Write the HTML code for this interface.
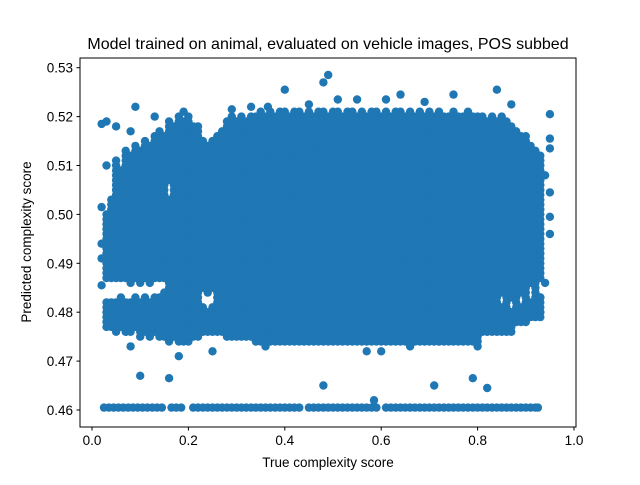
<!DOCTYPE html>
<html><head><meta charset="utf-8"><style>
body{margin:0;background:#fff;font-family:"Liberation Sans","DejaVu Sans",sans-serif;}
svg text{font-family:"Liberation Sans","DejaVu Sans",sans-serif;}
</style></head><body>
<svg id="chart" width="640" height="480" viewBox="0 0 640 480" xmlns="http://www.w3.org/2000/svg">
<rect width="640" height="480" fill="#fff"/>
<text x="328" y="49" font-size="16" text-anchor="middle">Model trained on animal, evaluated on vehicle images, POS subbed</text>
<g id="marks"></g>
<rect x="80" y="58" width="496" height="369" fill="none" stroke="#000" stroke-width="1"/>
<g id="axes"></g>
<text x="328" y="467" font-size="13.5" text-anchor="middle">True complexity score</text>
<text transform="translate(31,242) rotate(-90)" font-size="13.5" text-anchor="middle">Predicted complexity score</text>
</svg>
<script>
const colX = [0.03,0.04,0.05,0.06,0.07,0.08,0.09,0.10,0.11,0.12,0.13,0.14,0.15,0.16,0.17,0.18,0.19,0.20,0.21,0.22,0.23,0.24,0.25,0.26,0.27,0.28,0.29,0.30,0.31,0.32,0.33,0.34,0.35,0.36,0.37,0.38,0.39,0.40,0.41,0.42,0.43,0.44,0.45,0.46,0.47,0.48,0.49,0.50,0.51,0.52,0.53,0.54,0.55,0.56,0.57,0.58,0.59,0.60,0.61,0.62,0.63,0.64,0.65,0.66,0.67,0.68,0.69,0.70,0.71,0.72,0.73,0.74,0.75,0.76,0.77,0.78,0.79,0.80,0.81,0.82,0.83,0.84,0.85,0.86,0.87,0.88,0.89,0.90,0.91,0.92,0.93];
const colLow = [0.477,0.477,0.476,0.477,0.476,0.476,0.477,0.475,0.476,0.475,0.476,0.475,0.475,0.474,0.475,0.474,0.474,0.474,0.475,0.475,0.476,0.476,0.476,0.476,0.476,0.475,0.475,0.475,0.475,0.475,0.475,0.474,0.474,0.474,0.474,0.474,0.474,0.474,0.474,0.474,0.474,0.474,0.474,0.474,0.474,0.474,0.474,0.474,0.474,0.474,0.474,0.474,0.474,0.474,0.474,0.474,0.474,0.474,0.474,0.474,0.474,0.474,0.474,0.474,0.474,0.474,0.474,0.474,0.474,0.474,0.474,0.474,0.474,0.474,0.474,0.474,0.474,0.474,0.476,0.476,0.476,0.476,0.476,0.476,0.476,0.478,0.478,0.478,0.479,0.479,0.479];
const colHigh = [0.500,0.503,0.511,0.509,0.513,0.512,0.514,0.513,0.515,0.514,0.516,0.517,0.516,0.519,0.518,0.520,0.519,0.520,0.518,0.518,0.515,0.514,0.515,0.516,0.517,0.519,0.520,0.519,0.520,0.519,0.520,0.520,0.521,0.520,0.521,0.520,0.521,0.521,0.520,0.521,0.521,0.520,0.521,0.520,0.521,0.521,0.520,0.521,0.521,0.520,0.521,0.521,0.520,0.521,0.520,0.521,0.521,0.520,0.521,0.520,0.521,0.521,0.520,0.521,0.520,0.521,0.520,0.521,0.520,0.521,0.520,0.520,0.521,0.520,0.520,0.521,0.520,0.520,0.520,0.519,0.520,0.519,0.520,0.519,0.518,0.517,0.516,0.516,0.514,0.513,0.512];
const holeLow = [0.483,0.483,0.483,0.484,0.483,0.483,0.484,0.483,0.484,0.483,0.484,0.484,0.485,0.504,0.0,0.0,0.0,0.0,0.0,0.0,0.482,0.481,0.482,0.0,0.0,0.0,0.0,0.0,0.0,0.0,0.0,0.0,0.0,0.0,0.0,0.0,0.0,0.0,0.0,0.0,0.0,0.0,0.0,0.0,0.0,0.0,0.0,0.0,0.0,0.0,0.0,0.0,0.0,0.0,0.0,0.0,0.0,0.0,0.0,0.0,0.0,0.0,0.0,0.0,0.0,0.0,0.0,0.0,0.0,0.0,0.0,0.0,0.0,0.0,0.0,0.0,0.0,0.0,0.0,0.0,0.0,0.0,0.482,0.0,0.481,0.0,0.482,0.0,0.483,0.0,0.484];
const holeHigh = [0.486,0.486,0.486,0.486,0.486,0.485,0.486,0.485,0.486,0.485,0.486,0.486,0.486,0.506,0.0,0.0,0.0,0.0,0.0,0.0,0.484,0.483,0.484,0.0,0.0,0.0,0.0,0.0,0.0,0.0,0.0,0.0,0.0,0.0,0.0,0.0,0.0,0.0,0.0,0.0,0.0,0.0,0.0,0.0,0.0,0.0,0.0,0.0,0.0,0.0,0.0,0.0,0.0,0.0,0.0,0.0,0.0,0.0,0.0,0.0,0.0,0.0,0.0,0.0,0.0,0.0,0.0,0.0,0.0,0.0,0.0,0.0,0.0,0.0,0.0,0.0,0.0,0.0,0.0,0.0,0.0,0.0,0.483,0.0,0.482,0.0,0.483,0.0,0.485,0.0,0.486];
const baseY = 0.4605;
const baseX = [0.025,0.035,0.045,0.055,0.065,0.075,0.085,0.095,0.105,0.115,0.125,0.135,0.145,0.165,0.175,0.185,0.21,0.22,0.23,0.24,0.25,0.26,0.27,0.28,0.29,0.30,0.31,0.32,0.33,0.34,0.35,0.36,0.37,0.38,0.39,0.40,0.41,0.42,0.43,0.45,0.46,0.47,0.48,0.49,0.50,0.51,0.52,0.53,0.54,0.55,0.56,0.57,0.58,0.59,0.61,0.62,0.63,0.64,0.65,0.66,0.67,0.68,0.69,0.70,0.71,0.72,0.73,0.74,0.75,0.76,0.77,0.78,0.79,0.80,0.81,0.82,0.83,0.84,0.85,0.86,0.87,0.88,0.89,0.90,0.91,0.92,0.925];
const outX = [0.02,0.03,0.05,0.08,0.19,0.365,0.40,0.48,0.49,0.51,0.64,0.84,0.95,0.95,0.95,0.95,0.95,0.95,0.94,0.10,0.16,0.18,0.48,0.71,0.79,0.82,0.25,0.08,0.585,0.02,0.02,0.02,0.02,0.93,0.93,0.94,0.36,0.66,0.72,0.80,0.57,0.60,0.03,0.13,0.09,0.45,0.55,0.33,0.29,0.61,0.75,0.87,0.69];
const outY = [0.5185,0.519,0.518,0.517,0.521,0.522,0.5255,0.527,0.5285,0.5235,0.5245,0.5255,0.5205,0.5155,0.5135,0.5045,0.4995,0.496,0.508,0.467,0.4665,0.471,0.465,0.465,0.4665,0.4645,0.472,0.473,0.462,0.5015,0.494,0.491,0.4855,0.483,0.480,0.486,0.473,0.473,0.474,0.473,0.472,0.472,0.510,0.520,0.522,0.5225,0.5235,0.522,0.5215,0.5235,0.5245,0.5225,0.523];
const xTicks = [0.0,0.2,0.4,0.6,0.8,1.0];
const xTickLabels = ["0.0","0.2","0.4","0.6","0.8","1.0"];
const yTicks = [0.46,0.47,0.48,0.49,0.50,0.51,0.52,0.53];
const yTickLabels = ["0.46","0.47","0.48","0.49","0.50","0.51","0.52","0.53"];

const NS = "http://www.w3.org/2000/svg";
function xs(v){return 92 + v*482;}
function ys(v){return 410 - (v-0.46)*4890;}
const marks = document.getElementById('marks');
const axes = document.getElementById('axes');
function dot(x,y,name){
  const c = document.createElementNS(NS,'circle');
  c.setAttribute('cx',xs(x).toFixed(1));
  c.setAttribute('cy',ys(y).toFixed(1));
  c.setAttribute('r','4.2');
  c.setAttribute('fill','#1f77b4');
  
  
  marks.appendChild(c);
}
for(let i=0;i<colX.length;i++){
  for(let y=colLow[i]; y<=colHigh[i]+1e-9; y+=0.001){
    if(y>=holeLow[i]-1e-9 && y<=holeHigh[i]+1e-9) continue;
    dot(colX[i], y, 'dense-point');
  }
}
for(let i=0;i<baseX.length;i++){ dot(baseX[i], baseY, 'baseline-point'); }
for(let i=0;i<outX.length;i++){ dot(outX[i], outY[i], 'outlier-point'); }

for(let i=0;i<xTicks.length;i++){
  const px = xs(xTicks[i]);
  const l = document.createElementNS(NS,'line');
  l.setAttribute('x1',px);l.setAttribute('x2',px);l.setAttribute('y1',427);l.setAttribute('y2',430.5);
  l.setAttribute('stroke','#000');
  
  
  axes.appendChild(l);
  const t = document.createElementNS(NS,'text');
  t.setAttribute('x',px);t.setAttribute('y',445);t.setAttribute('font-size','13.5');t.setAttribute('text-anchor','middle');
  t.textContent = xTickLabels[i];
  
  
  axes.appendChild(t);
}
for(let i=0;i<yTicks.length;i++){
  const py = ys(yTicks[i]);
  const l = document.createElementNS(NS,'line');
  l.setAttribute('x1',76.5);l.setAttribute('x2',80);l.setAttribute('y1',py);l.setAttribute('y2',py);
  l.setAttribute('stroke','#000');
  
  
  axes.appendChild(l);
  const t = document.createElementNS(NS,'text');
  t.setAttribute('x',73);t.setAttribute('y',py+5);t.setAttribute('font-size','13.5');t.setAttribute('text-anchor','end');
  t.textContent = yTickLabels[i];
  
  
  axes.appendChild(t);
}
</script>
</body></html>
